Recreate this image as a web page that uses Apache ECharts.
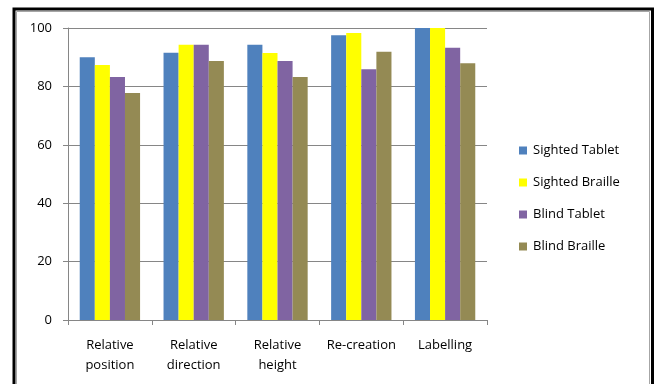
<!DOCTYPE html>
<html>
<head>
<meta charset="utf-8">
<script src="https://cdn.jsdelivr.net/npm/echarts@6/dist/echarts.min.js"></script>
<style>
  html, body { margin: 0; padding: 0; background: #fff; }
  #chart { width: 654px; height: 384px; }
</style>
</head>
<body>
<div id="chart"></div>
<script>
// Task categories on the x axis
const categories = ['Relative\nposition', 'Relative\ndirection', 'Relative\nheight', 'Re-creation', 'Labelling'];

// Scores per group
const sightedTablet  = [90, 91.5, 94.3, 97.5, 100];
const sightedBraille = [87.3, 94.3, 91.4, 98.3, 100];
const blindTablet    = [83.2, 94.3, 88.7, 85.9, 93.2];
const blindBraille   = [77.7, 88.7, 83.2, 91.9, 87.9];

const seriesNames = ['Sighted Tablet', 'Sighted Braille', 'Blind Tablet', 'Blind Braille'];
const seriesColors = ['#4F81BD', '#FFFF00', '#8064A2', '#948A54'];

// Y axis ticks
const yMin = 0, yMax = 100, yStep = 20;

const font = 'Open Sans';

const chart = echarts.init(document.getElementById('chart'));
const allData = [sightedTablet, sightedBraille, blindTablet, blindBraille];

chart.setOption({
  animation: false,
  backgroundColor: '#fff',
  textStyle: { fontFamily: font },
  grid: { left: 68, right: 167, top: 28, bottom: 64 },
  legend: {
    orient: 'vertical',
    left: 514,
    top: 139,
    itemWidth: 8,
    itemHeight: 8,
    itemGap: 19,
    icon: 'rect',
    data: seriesNames,
    textStyle: { fontFamily: font, fontSize: 13, color: '#000', padding: [0, 0, 0, 1] }
  },
  xAxis: {
    type: 'category',
    data: categories,
    boundaryGap: true,
    axisLine: { lineStyle: { color: '#868686', width: 1 } },
    axisTick: { show: true, length: 5, lineStyle: { color: '#868686' } },
    axisLabel: { color: '#000', fontSize: 13, lineHeight: 20, margin: 15, interval: 0 }
  },
  yAxis: {
    type: 'value',
    min: yMin,
    max: yMax,
    interval: yStep,
    axisLine: { show: true, lineStyle: { color: '#868686', width: 1 } },
    axisTick: { show: true, length: 5, lineStyle: { color: '#868686' } },
    splitLine: { lineStyle: { color: '#868686', width: 1 } },
    axisLabel: { color: '#000', fontSize: 13, margin: 16 }
  },
  series: allData.map((d, i) => ({
    name: seriesNames[i],
    type: 'bar',
    data: d,
    barGap: '0%',
    barCategoryGap: '28%',
    itemStyle: { color: seriesColors[i] }
  })),
  graphic: [
    // inner grey frame
    { type: 'rect', silent: true, z: 100,
      shape: { x: 16.5, y: 11.5, width: 633, height: 380 },
      style: { fill: null, stroke: '#a6a6a6', lineWidth: 1 } },
    // outer black frame
    { type: 'rect', silent: true, z: 101,
      shape: { x: 14, y: 9, width: 638.5, height: 390 },
      style: { fill: null, stroke: '#000', lineWidth: 3 } }
  ]
});
</script>
</body>
</html>
